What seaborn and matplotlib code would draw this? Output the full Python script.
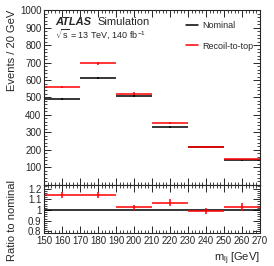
import numpy as np
import matplotlib
matplotlib.use('Agg')
import matplotlib.pyplot as plt
import seaborn as sns
from matplotlib.ticker import MultipleLocator, FixedLocator
from matplotlib.lines import Line2D

# данные
bin_edges = [150, 170, 190, 210, 230, 250, 270]
nominal = [490, 610, 510, 330, 218, 142]
nominal_err = [6, 7, 6, 5, 4, 4]
recoil = [560, 695, 522, 353, 216, 146]
recoil_err = [7, 8, 7, 6, 5, 4]
ratio_err = [0.03, 0.025, 0.025, 0.03, 0.025, 0.035]

sns.set_style('ticks')
plt.rcParams['font.family'] = ['Liberation Sans', 'DejaVu Sans']
plt.rcParams['font.size'] = 7
plt.rcParams['mathtext.fontset'] = 'custom'
plt.rcParams['mathtext.rm'] = 'Liberation Sans'
plt.rcParams['mathtext.it'] = 'Liberation Sans'

edges = np.array(bin_edges)
centers = (edges[:-1] + edges[1:]) / 2
half = np.diff(edges) / 2
ratio = np.array(recoil) / np.array(nominal)

fig = plt.figure(figsize=(2.74, 2.66), dpi=100)
ax = fig.add_axes([0.161, 0.305, 0.788, 0.657])
rax = fig.add_axes([0.161, 0.124, 0.788, 0.181], sharex=ax)

ax.errorbar(centers, nominal, xerr=half, yerr=nominal_err, fmt='none', ecolor='black', elinewidth=1.1)
ax.errorbar(centers, recoil, xerr=half, yerr=recoil_err, fmt='none', ecolor='red', elinewidth=1.1)

rax.axhline(1.0, color='black', lw=1.1)
rax.errorbar(centers, ratio, xerr=half, yerr=ratio_err, fmt='none', ecolor='red', elinewidth=1.1)

ax.set_xlim(150, 270)
ax.set_ylim(0, 1000)
rax.set_ylim(0.785, 1.235)

for a in (ax, rax):
    a.tick_params(which='both', direction='in', top=True, right=True, labelsize=7, pad=2)
    a.tick_params(which='major', length=5, width=0.7)
    a.tick_params(which='minor', length=2.5, width=0.6)
    for s in a.spines.values():
        s.set_linewidth(0.8)
    a.xaxis.set_major_locator(MultipleLocator(10))
    a.xaxis.set_minor_locator(MultipleLocator(2))

ax.yaxis.set_major_locator(FixedLocator(np.arange(100, 1001, 100)))
ax.yaxis.set_minor_locator(MultipleLocator(20))
plt.setp(ax.get_xticklabels(), visible=False)

rax.yaxis.set_major_locator(FixedLocator([0.8, 0.9, 1.0, 1.1, 1.2]))
rax.yaxis.set_minor_locator(MultipleLocator(0.02))
rax.set_yticklabels(['0.8', '0.9', '1', '1.1', '1.2'])

ax.set_ylabel('Events / 20 GeV', fontsize=8, loc='top')
ax.yaxis.set_label_coords(-0.125, 1.0)
rax.set_ylabel('Ratio to nominal', fontsize=8)
rax.yaxis.set_label_coords(-0.125, 0.25)
rax.set_xlabel(r'm$_{\rm lj}$ [GeV]', fontsize=8, loc='right')
rax.xaxis.set_label_coords(1.0, -0.36)

ax.text(0.05, 0.915, 'ATLAS', transform=ax.transAxes, fontsize=8, fontweight='bold', style='italic')
ax.text(0.245, 0.915, 'Simulation', transform=ax.transAxes, fontsize=8)
ax.text(0.05, 0.84, r'$\sqrt{s}$ = 13 TeV, 140 fb$^{-1}$', transform=ax.transAxes, fontsize=6.5)

handles = [Line2D([], [], color='black', lw=1.1), Line2D([], [], color='red', lw=1.1)]
ax.legend(handles, ['Nominal', 'Recoil-to-top'], loc='upper right', bbox_to_anchor=(1.0, 0.975),
          frameon=False, fontsize=6.5, handlelength=1.3, handletextpad=0.5,
          labelspacing=1.3, borderaxespad=0.3)

fig.savefig('out.png', dpi=100)
